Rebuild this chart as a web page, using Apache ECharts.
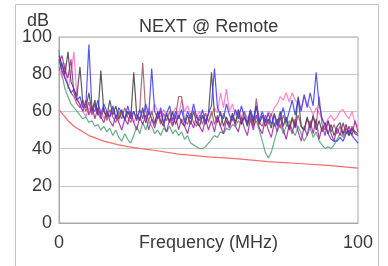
<!DOCTYPE html>
<html>
<head>
<meta charset="utf-8">
<script src="https://cdn.jsdelivr.net/npm/echarts@6/dist/echarts.min.js"></script>
<style>
  html, body { margin: 0; padding: 0; background: #fff; }
  #chart { width: 388px; height: 266px; }
</style>
</head>
<body>
<div id="chart"></div>
<script>
// frequency axis 0..100 MHz, one point per MHz
var freqs = [];
for (var f = 0; f <= 100; f++) freqs.push(f);

var yTicks = [0, 20, 40, 60, 80, 100];

// limit line, [MHz, dB]
var limitLine = [[0,61],[1,59],[2,57],[3,55],[5,52],[7,50],[10,47],[15,44],[20,42],[25,40.5],[30,39.5],[40,37],[50,35.5],[60,34.5],[70,33],[80,32],[90,31],[100,29.5]];

var greenPair = [93,80,72,68,64,62,60,58,56,57,54,55,52,53,50,52,49,51,47,50,46,44,48,45,43,47,52,48,54,50,55,52,48,50,47,51,49,52,48,50,47,49,45,47,43,42,41,40,40,41,43,45,47,46,49,48,51,50,53,52,55,53,57,54,58,52,55,50,44,38,35,38,44,50,53,48,52,55,50,47,52,48,44,47,51,46,49,44,42,40,41,40,42,45,48,46,49,47,50,49,48];
var bluePair = [88,82,78,74,70,72,66,68,62,64,96,62,60,66,58,64,60,57,63,56,62,59,56,63,57,60,55,61,56,64,58,83,60,56,62,54,59,63,55,60,56,61,54,60,56,64,57,55,61,54,59,63,83,62,58,56,64,58,55,61,56,63,57,54,61,56,63,55,60,54,59,53,58,52,57,62,54,60,66,58,67,60,69,62,70,63,81,64,56,52,48,45,44,44,46,44,48,50,47,45,43];
var blackPair = [90,85,80,92,76,72,68,84,64,62,70,60,66,58,82,60,57,66,58,63,56,61,55,60,56,81,58,55,62,54,60,56,53,60,55,52,59,54,60,53,58,54,52,58,53,60,54,52,58,53,59,81,58,54,60,52,57,53,59,54,61,53,57,52,60,54,63,53,58,52,56,51,59,53,60,52,57,50,56,51,68,52,50,57,51,58,50,55,49,54,48,53,47,52,54,48,53,47,51,48,47];
var purplePair = [86,90,82,78,88,70,66,64,60,66,58,63,56,62,57,54,60,55,52,58,54,50,56,53,60,54,50,57,53,58,50,56,51,57,60,53,49,56,52,58,50,56,52,48,55,51,58,52,49,56,50,55,49,57,52,48,55,51,58,52,49,57,51,47,56,50,58,51,48,56,50,46,54,49,57,50,45,53,48,56,49,44,52,47,55,48,56,45,52,47,55,48,44,51,47,54,48,52,47,55,49];
var pinkPair = [84,78,86,72,80,92,68,63,60,57,62,59,64,58,61,56,60,57,62,58,55,59,56,60,57,54,58,56,60,57,62,58,64,60,57,61,58,55,59,62,58,66,60,63,58,61,57,60,56,59,55,58,62,59,70,62,72,60,64,58,61,57,60,56,59,55,58,54,57,55,60,58,62,64,68,66,70,65,70,66,64,62,68,64,62,58,62,59,56,53,56,58,55,57,60,61,58,56,60,54,52];
var brownPair = [82,86,78,74,70,68,64,62,66,60,65,58,64,59,56,62,55,61,57,54,60,56,62,57,54,60,56,61,86,60,55,60,54,59,53,59,55,60,53,57,68,68,55,53,59,54,52,58,53,59,54,60,53,58,52,59,55,52,58,53,59,54,60,53,57,52,67,54,52,58,53,59,52,56,51,58,53,51,57,52,58,52,50,56,51,57,52,68,53,50,55,49,53,48,52,47,51,48,52,49,48];

function pairs(vals) {
    return vals.map(function (v, i) { return [freqs[i], v]; });
}

function trace(name, vals, color) {
    return {
        name: name,
        type: 'line',
        data: pairs(vals),
        symbol: 'none',
        silent: true,
        lineStyle: { color: color, width: 1.2, opacity: 0.85 }
    };
}

var textColor = '#3a3a3a';
var fontFam = '"Liberation Sans", Arial, sans-serif';

var myChart = echarts.init(document.getElementById('chart'));
var option = {
    animation: false,
    backgroundColor: '#fff',
    title: {
        text: 'NEXT @ Remote',
        left: 134,
        top: 13,
        textStyle: { color: textColor, fontSize: 18, fontWeight: 'normal', fontFamily: fontFam }
    },
    graphic: [
        {
            type: 'rect',
            shape: { x: 15.5, y: 4.5, width: 363, height: 280 },
            style: { fill: null, stroke: '#c4c4c4', lineWidth: 1 },
            silent: true
        },
        {
            type: 'text',
            left: 27,
            top: 12,
            style: { text: 'dB', fill: textColor, fontSize: 18, fontFamily: fontFam }
        }
    ],
    grid: {
        left: 59, right: 30, top: 37, bottom: 43,
        containLabel: false,
        outerBoundsMode: 'none',
        show: true, borderColor: '#a8a8a8', borderWidth: 1
    },
    xAxis: {
        type: 'value',
        min: 0, max: 100, interval: 100,
        name: 'Frequency (MHz)',
        nameLocation: 'middle',
        nameGap: 11,
        nameMoveOverlap: false,
        nameTextStyle: { color: textColor, fontSize: 18, fontFamily: fontFam, verticalAlign: 'top' },
        axisLine: { show: true, lineStyle: { color: '#a8a8a8' } },
        axisTick: { show: false },
        splitLine: { show: false },
        axisLabel: { color: textColor, fontSize: 18, fontFamily: fontFam, margin: 11 }
    },
    yAxis: {
        type: 'value',
        min: yTicks[0], max: yTicks[yTicks.length - 1], interval: 20,
        axisLine: { show: true, lineStyle: { color: '#a8a8a8' } },
        axisTick: { show: false },
        splitLine: { show: true, lineStyle: { color: '#c8c8c8', width: 1 } },
        axisLabel: { color: textColor, fontSize: 18, fontFamily: fontFam, margin: 7 }
    },
    series: [
        {
            name: 'limit',
            type: 'line',
            data: limitLine,
            symbol: 'none',
            silent: true,
            lineStyle: { color: '#ff6a6a', width: 1.2 }
        },
        trace('green', greenPair, '#4fa070'),
        trace('pink', pinkPair, '#ff70c8'),
        trace('brown', brownPair, '#a05060'),
        trace('black', blackPair, '#404040'),
        trace('blue', bluePair, '#3838ff'),
        trace('purple', purplePair, '#a020a8')
    ]
};
myChart.setOption(option);
</script>
</body>
</html>
